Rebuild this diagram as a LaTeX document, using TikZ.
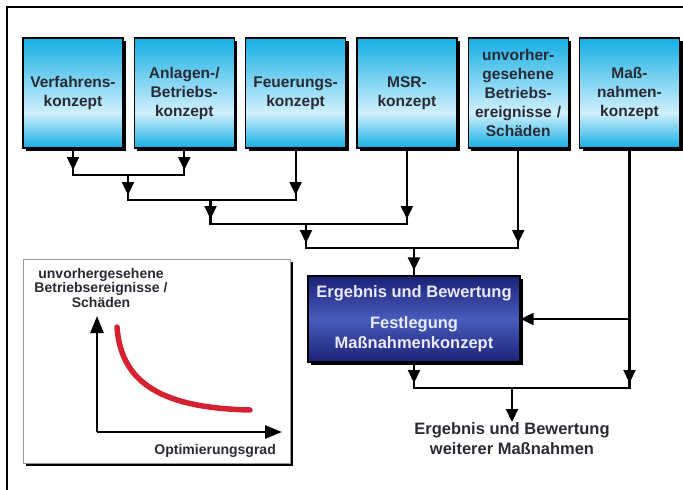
\documentclass[tikz,border=0pt]{standalone}
\usepackage{fontspec}
\setmainfont{Liberation Sans}
\usepackage{xcolor}
\usepackage{tikz}
\usetikzlibrary{positioning,%
  arrows.meta,%
  shadows,%
  decorations.markings
}

\definecolor{kzcyan}{RGB}{20,174,228}
\definecolor{kzlight}{RGB}{208,240,252}
\definecolor{ergdark}{RGB}{28,34,118}
\definecolor{ergmid}{RGB}{72,92,188}
\definecolor{kurve}{RGB}{214,34,48}
\definecolor{schrift}{RGB}{42,42,52}

\pgfdeclareverticalshading{kzshade}{100bp}{color(0bp)=(kzcyan); color(25bp)=(kzcyan);
  color(41bp)=(kzlight); color(75bp)=(kzcyan); color(100bp)=(kzcyan)}

\begin{document}
\begin{tikzpicture}
                    [x=1pt, y=-1pt,
                    kz/.style={rectangle,
                        shading=kzshade, draw=black, line width=1.3pt,
                        minimum width=100pt, minimum height=110pt,
                        inner sep=0pt, text width=98pt, align=center,
                        text=schrift,
                        font=\bfseries\fontsize{15.5}{19}\selectfont,
                        drop shadow={shadow xshift=3pt, shadow yshift=-3pt,
                            fill=black, opacity=1}},
                    erg/.style={rectangle,
                        top color=ergdark, bottom color=ergdark,
                        middle color=ergmid, draw=black, line width=1.3pt,
                        minimum width=212pt, minimum height=86pt,
                        inner sep=0pt, align=center, text=white!92!blue,
                        font=\bfseries\fontsize{16.5}{20}\selectfont,
                        drop shadow={shadow xshift=3pt, shadow yshift=-3pt,
                            fill=black, opacity=1}},
                    graf/.style={rectangle,
                        fill=white, draw=black!40, line width=1pt,
                        minimum width=267pt, minimum height=204pt,
                        drop shadow={shadow xshift=3pt, shadow yshift=-3pt,
                            fill=black, opacity=1}},
                    lbl/.style={align=center, text=schrift, inner sep=0pt,
                        font=\bfseries\fontsize{14}{14.5}\selectfont},
                    fl/.style={line width=2.2pt, postaction={decorate},
                        decoration={markings,
                            mark=at position -5pt with
                            {\arrow{Triangle[width=12pt,length=13pt]}}}},
                    hl/.style={line width=2.2pt, line cap=rect},
                    pf/.style={line width=2.2pt,
                        -{Triangle[width=12pt,length=13pt]}},
                    ax/.style={line width=2.6pt,
                        -{Triangle[width=13pt,length=17pt]}},
                    node distance=10pt]

                    \useasboundingbox (0,0) rectangle (683,490);
                    \draw[line width=1.5pt] (683,7) -- (7,7) -- (7,490);

                    % Konzepte
                    \node[kz] (v1) at (73,93)
                        {Verfahrens-\\konzept};
                    \node[kz, right=of v1] (v2)
                        {Anlagen-/\\Betriebs-\\konzept};
                    \node[kz, right=of v2] (v3)
                        {Feuerungs-\\konzept};
                    \node[kz, right=of v3] (v4)
                        {MSR-\\konzept};
                    \node[kz, right=of v4] (v5)
                        {unvorher-\\gesehene\\Betriebs-\\ereignisse /\\Sch\"aden};
                    \node[kz, right=of v5] (v6)
                        {Ma\ss-\\nahmen-\\konzept};

                    \node[erg] (erg) at (414,319)
                        {Ergebnis und Bewertung\\[11pt]Festlegung\\Ma\ss nahmenkonzept};
                    \node[lbl, anchor=north, font=\bfseries\fontsize{16.5}{20}\selectfont]
                        (res) at (512,422)
                        {Ergebnis und Bewertung\\weiterer Ma\ss nahmen};

                    % Verbindungen
                    \coordinate (j1) at (128,175);
                    \coordinate (j2) at (210.5,200);
                    \coordinate (j3) at (306,224);
                    \coordinate (j4) at (414,248);
                    \coordinate (j5) at (512,388);

                    \draw[fl] (v1) -- (v1 |- j1);
                    \draw[fl] (v2) -- (v2 |- j1);
                    \draw[hl] (v1 |- j1) -- (v2 |- j1);

                    \draw[fl] (j1) -- (j1 |- j2);
                    \draw[fl] (v3) -- (v3 |- j2);
                    \draw[hl] (j1 |- j2) -- (v3 |- j2);

                    \draw[fl] (j2) -- (j2 |- j3);
                    \draw[fl] (v4) -- (v4 |- j3);
                    \draw[hl] (j2 |- j3) -- (v4 |- j3);

                    \draw[fl] (j3) -- (j3 |- j4);
                    \draw[fl] (v5) -- (v5 |- j4);
                    \draw[hl] (j3 |- j4) -- (v5 |- j4);

                    \draw[fl] (j4) -- (erg);
                    \draw[pf] (v6 |- erg) -- (erg);
                    \draw[fl] (erg) -- (erg |- j5);
                    \draw[fl] (v6) -- (v6 |- j5);
                    \draw[hl] (erg |- j5) -- (v6 |- j5);
                    \draw[pf] (j5) -- (res);

                    % Diagramm
                    \node[graf] (gr) at (156.5,361) {};
                    \node[lbl, anchor=north] (ylab) at (101,268)
                        {unvorhergesehene\\Betriebsereignisse /\\Sch\"aden};
                    \node[lbl, anchor=base east] (xlab) at (276,454)
                        {Optimierungsgrad};
                    \coordinate (o) at (97,432);
                    \coordinate (ytip) at (97,316);
                    \coordinate (xtip) at (282,432);
                    \draw[ax] (o) -- (ytip);
                    \draw[ax] (o) -- (xtip);
                    \draw[kurve, line width=5.5pt, line cap=round]
                        (117,327) .. controls (121,385) and (165,408) .. (250,410);
                \end{tikzpicture}
\end{document}
